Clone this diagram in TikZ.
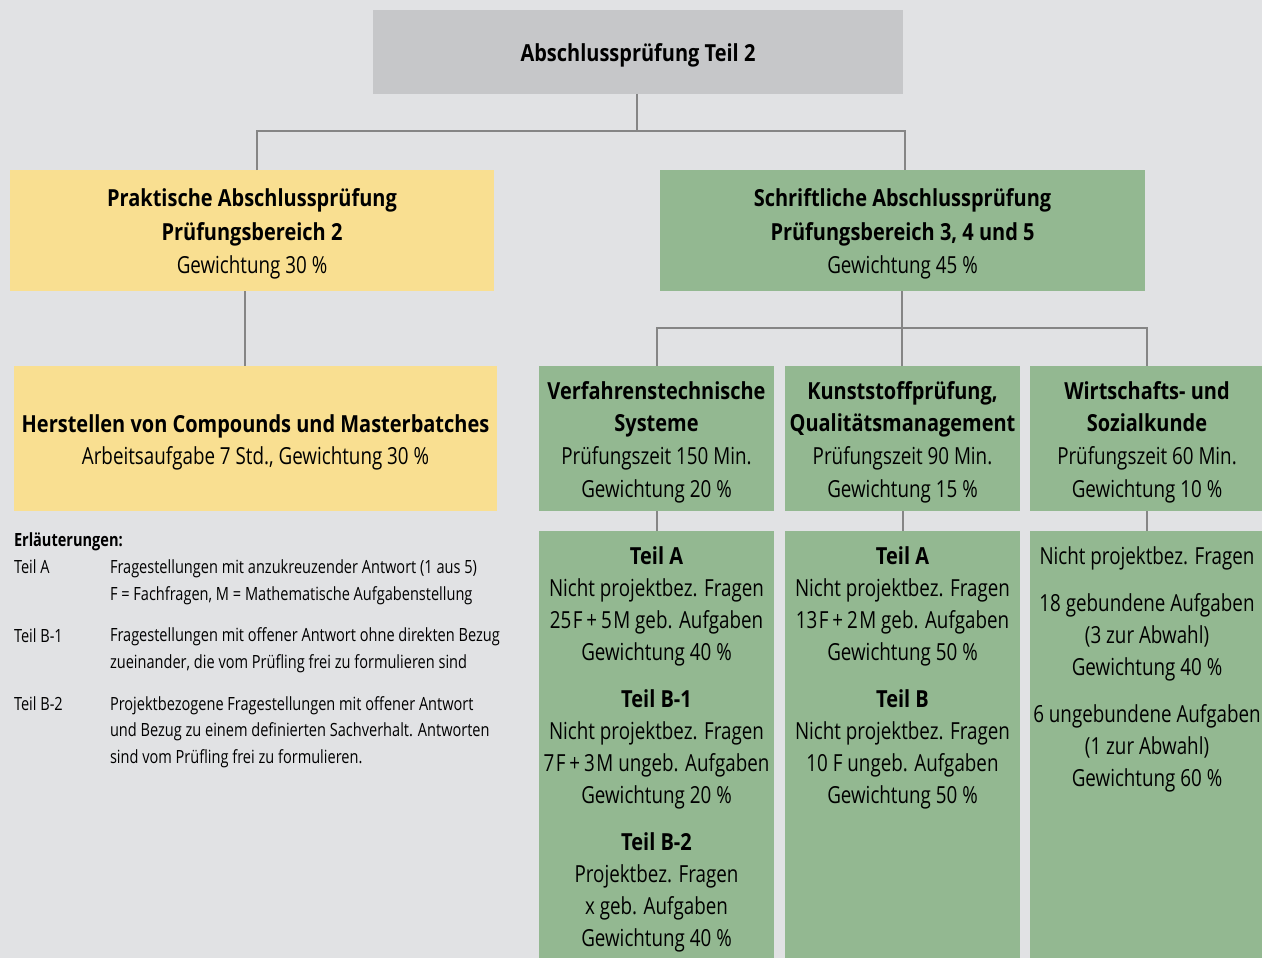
\documentclass[tikz,border=0pt]{standalone}
\usepackage{fontspec}
\setmainfont{Open Sans}[FakeStretch=0.80, BoldFeatures={FakeStretch=0.85}]
\newfontfamily\legfam{Open Sans}[FakeStretch=0.80]
\definecolor{bg}{HTML}{E1E2E4}
\definecolor{topgray}{HTML}{C6C7C9}
\definecolor{ylw}{HTML}{F9DF91}
\definecolor{grn}{HTML}{93B891}
\definecolor{ln}{HTML}{858585}
\newcommand\boxfont{\fontsize{23.5}{32}\selectfont}
\newcommand\legfont{\legfam\fontsize{18.2}{26.5}\selectfont}
\newcommand\tk{\kern1.5pt}
\tikzset{
  box/.style={inner sep=0pt, outer sep=0pt},
  topbox/.style={box, fill=topgray},
  ybox/.style={box, fill=ylw},
  gbox/.style={box, fill=grn},
  conn/.style={draw=ln, line width=2pt},
  txt/.style={inner sep=0pt, outer sep=0pt, align=center, font=\boxfont, anchor=north},
  ctxt/.style={inner sep=0pt, outer sep=0pt, align=center, font=\boxfont, anchor=center, yshift=-3.5pt},
  leg/.style={inner sep=0pt, outer sep=0pt, anchor=base west, font=\legfont, align=left},
}
\begin{document}
\begin{tikzpicture}[x=1pt,y=-1pt]
\fill[bg] (0,0) rectangle (1262,958);
\useasboundingbox (0,0) rectangle (1262,958);

% boxes
\node[topbox, minimum width=530pt, minimum height=84pt] (top) at (638,52) {};
\node[ybox, minimum width=484pt, minimum height=121pt] (y1) at (252,230.5) {};
\node[gbox, minimum width=485pt, minimum height=121pt] (g1) at (902.5,230.5) {};
\node[ybox, minimum width=483pt, minimum height=145pt] (y2) at (255.5,438.5) {};
\node[gbox, minimum width=235pt, minimum height=145pt] (ga) at (656.5,438.5) {};
\node[gbox, minimum width=235pt, minimum height=145pt] (gb) at (902.5,438.5) {};
\node[gbox, minimum width=232pt, minimum height=145pt] (gc) at (1146,438.5) {};
\node[gbox, minimum width=235pt, minimum height=427pt] (la) at (656.5,744.5) {};
\node[gbox, minimum width=235pt, minimum height=427pt] (lb) at (902.5,744.5) {};
\node[gbox, minimum width=232pt, minimum height=427pt] (lc) at (1146,744.5) {};

% box texts
\node[ctxt] (ttop) at (top) {\textbf{Abschlussprüfung Teil 2}};
\node[ctxt, font=\fontsize{23.5}{33.5}\selectfont] (ty1) at (y1)
  {\textbf{Praktische Abschlussprüfung}\\\textbf{Prüfungsbereich 2}\\Gewichtung 30 \%};
\node[ctxt, font=\fontsize{23.5}{33.5}\selectfont] (tg1) at (g1)
  {\textbf{Schriftliche Abschlussprüfung}\\\textbf{Prüfungsbereich 3, 4 und 5}\\Gewichtung 45 \%};
\node[ctxt] (ty2) at (y2)
  {\textbf{Herstellen von Compounds und Masterbatches}\\Arbeitsaufgabe 7 Std., Gewichtung 30 \%};
\node[ctxt, font=\fontsize{23.5}{32.7}\selectfont] (tga) at (ga)
  {\textbf{Verfahrenstechnische}\\\textbf{Systeme}\\Prüfungszeit 150 Min.\\Gewichtung 20 \%};
\node[ctxt, font=\fontsize{23.5}{32.7}\selectfont] (tgb) at (gb)
  {\textbf{Kunststoffprüfung,}\\\textbf{Qualitätsmanagement}\\Prüfungszeit 90 Min.\\Gewichtung 15 \%};
\node[ctxt, font=\fontsize{23.5}{32.7}\selectfont] (tgc) at ([xshift=1pt]gc.center)
  {\textbf{Wirtschafts- und}\\\textbf{Sozialkunde}\\Prüfungszeit 60 Min.\\Gewichtung 10 \%};

% lower texts
\node[txt] (ta) at (656.5,547)
  {\textbf{Teil A}\\Nicht projektbez. Fragen\\25\tk F\,+\,5\tk M geb. Aufgaben\\Gewichtung 40 \%\\[15pt]
   \textbf{Teil B-1}\\Nicht projektbez. Fragen\\7\tk F\,+\,3\tk M ungeb. Aufgaben\\Gewichtung 20 \%\\[15pt]
   \textbf{Teil B-2}\\Projektbez. Fragen\\x geb. Aufgaben\\Gewichtung 40 \%};
\node[txt] (tb) at (902.5,547)
  {\textbf{Teil A}\\Nicht projektbez. Fragen\\13\tk F\,+\,2\tk M geb. Aufgaben\\Gewichtung 50 \%\\[15pt]
   \textbf{Teil B}\\Nicht projektbez. Fragen\\10 F ungeb. Aufgaben\\Gewichtung 50 \%};
\node[txt] (tc) at (1147,547)
  {Nicht projektbez. Fragen\\[15pt]
   18 gebundene Aufgaben\\(3 zur Abwahl)\\Gewichtung 40 \%\\[15pt]
   6 ungebundene Aufgaben\\(1 zur Abwahl)\\Gewichtung 60 \%};

% legend (base anchor = baseline of the last line)
\node[leg] (lh) at (14,546) {\textbf{Erläuterungen:}};
\node[leg] (l1) at (14,573) {Teil A};
\node[leg] (l1t) at (110,600) {Fragestellungen mit anzukreuzender Antwort (1 aus 5)\\F = Fachfragen, M = Mathematische Aufgabenstellung};
\node[leg] (l2) at (14,642) {Teil B-1};
\node[leg] (l2t) at (110,668) {Fragestellungen mit offener Antwort ohne direkten Bezug\\zueinander, die vom Prüfling frei zu formulieren sind};
\node[leg] (l3) at (14,710) {Teil B-2};
\node[leg] (l3t) at (110,763) {Projektbezogene Fragestellungen mit offener Antwort\\und Bezug zu einem definierten Sachverhalt. Antworten\\sind vom Prüfling frei zu formulieren.};

% connectors
\coordinate (j1) at (637,131);
\coordinate (j2) at (902,328);
\draw[conn] (top.south -| j1) -- (j1);
\draw[conn] ([xshift=5pt]y1.north) |- (j1) -| ([xshift=2.5pt]g1.north);
\draw[conn] ([xshift=-7pt]y1.south) -- ([xshift=-10.5pt]y2.north);
\draw[conn] (g1.south -| j2) -- (j2);
\draw[conn] (ga.north) |- (j2) -| ([xshift=1pt]gc.north);
\draw[conn] (gb.north -| j2) -- (j2);
\draw[conn] (ga.south) -- (la.north);
\draw[conn] (gb.south) -- (lb.north);
\draw[conn] ([xshift=1pt]gc.south) -- ([xshift=1pt]lc.north);
\end{tikzpicture}
\end{document}
